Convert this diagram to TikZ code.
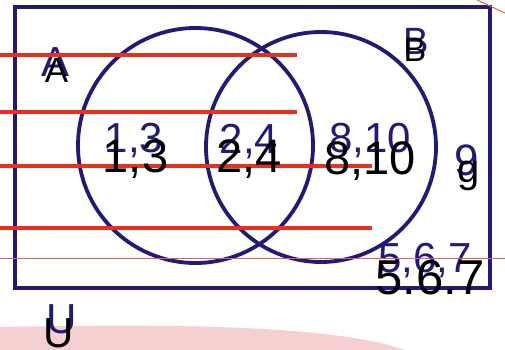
\documentclass[tikz,border=0pt]{standalone}
\usepackage{fontspec}
\setmainfont{Liberation Sans}
\definecolor{navy}{RGB}{32,26,122}
\definecolor{redline}{RGB}{232,48,28}
\definecolor{pinkbg}{RGB}{246,208,208}
\definecolor{thinred}{RGB}{226,96,80}
\begin{document}
\begin{tikzpicture}[x=1pt,y=-1pt,
  frame/.style={draw=navy,line width=4.2pt,rectangle,inner sep=0pt},
  setcirc/.style={draw=navy,line width=3.8pt,circle,inner sep=0pt},
  typed/.style={inner sep=0pt,anchor=base,text=black,font=\fontsize{47}{47}\selectfont},
  hand/.style={inner sep=0pt,anchor=base,text=navy,font=\fontsize{42}{42}\selectfont},
  redbar/.style={draw=redline,line width=3.5pt},
  faint/.style={draw=thinred,line width=1pt}]
\useasboundingbox (0,0) rectangle (505,350);
\fill[pinkbg] (0,350) -- (0,327) .. controls (160,324) and (330,324) .. (405,350) -- cycle;
\node[frame,minimum width=475pt,minimum height=281pt] (U) at (252.5,147.5) {};
\node[setcirc,minimum size=235pt] (A) at (195.5,145.5) {};
\node[setcirc,minimum size=230pt] (B) at (321,147) {};
% handwritten labels
\node[hand] (hA) at (56,77) {A};
\node[hand,font=\fontsize{38}{38}\selectfont] (hB) at (416,55) {B};
\node[hand] (h13) at (134,152) {1,3};
\node[hand] (h24) at (249,153) {2,4};
\node[hand] (h810) at (370,152) {8,10};
\node[hand,font=\fontsize{44}{44}\selectfont] (h9) at (467,175) {9};
\node[hand] (h567) at (425,272) {5,6,7};
\node[hand] (hU) at (62,333) {U};
% red lines
\draw[redbar] (0,55) -- (297,55);
\draw[redbar] (0,112) -- (297,112);
\draw[redbar] (0,166) -- (372,166);
\draw[redbar] (0,228) -- (372,228);
\draw[faint] (0,258) -- (505,258);
\draw[faint] (477,0) -- (505,13);
% typed labels
\node[typed,font=\fontsize{35}{35}\selectfont] (tA) at (56.5,83) {A};
\node[typed,font=\fontsize{34}{34}\selectfont] (tB) at (415,62) {B};
\node[typed] (t13) at (135.5,172) {1,3};
\node[typed] (t24) at (249,172) {2,4};
\node[typed] (t810) at (370,174) {8,10};
\node[typed,font=\fontsize{40}{40}\selectfont] (t9) at (469,182) {g};
\node[typed,font=\fontsize{49}{49}\selectfont] (t567) at (430,294) {5.6.7};
\node[typed,font=\fontsize{42}{42}\selectfont] (tU) at (59,347) {U};
\end{tikzpicture}
\end{document}
